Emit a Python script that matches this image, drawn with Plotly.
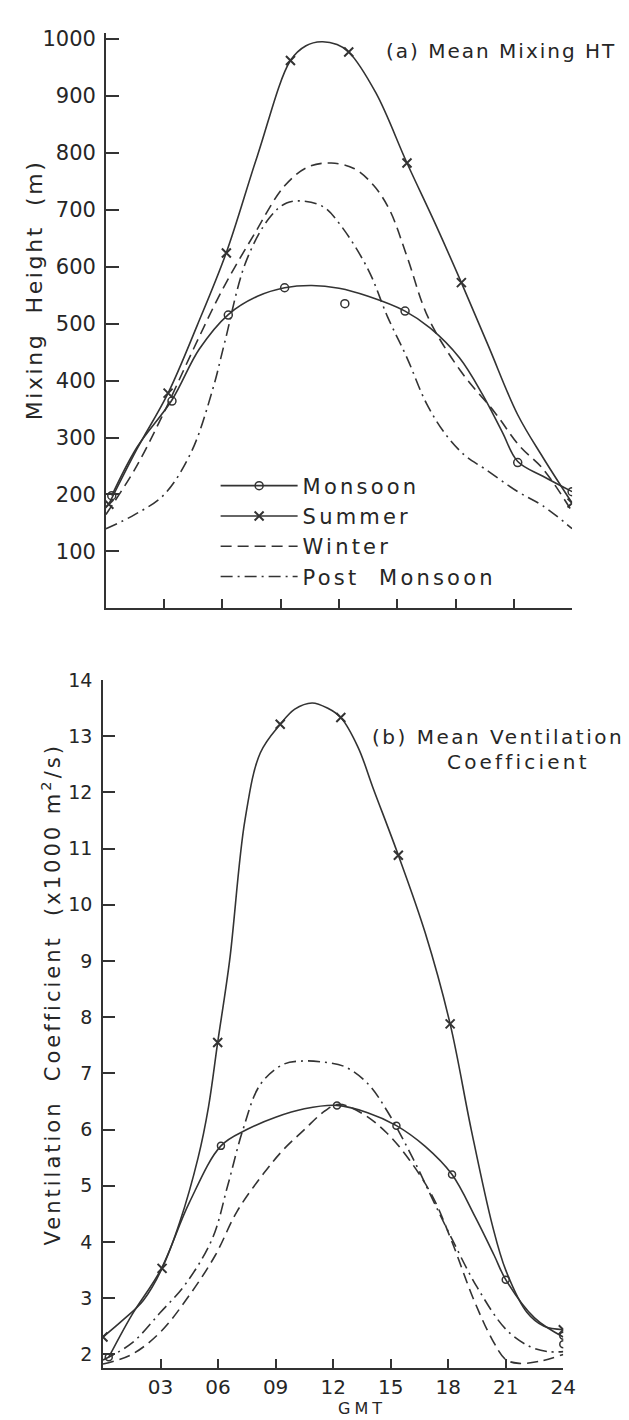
import plotly.graph_objects as go

# ---------------- data: (a) Mean mixing height (m) ----------------
mon_a_curve_h = [0.3, 1.6, 3.4, 4.8, 6.3, 7.8, 9.2, 10.6, 12.0, 13.5, 15.4, 16.7, 18.2, 19.4, 20.4, 21.2, 22.5, 24]
mon_a_curve_v = [198, 283, 366, 455, 516, 548, 563, 567, 562, 548, 522, 492, 440, 375, 310, 258, 232, 205]
mon_a_pts_h = [0.3, 3.4, 6.3, 9.2, 12.3, 15.4, 21.2, 24]
mon_a_pts_v = [198, 364, 515, 563, 535, 522, 256, 205]

sum_a_curve_h = [0.15, 1.6, 3.2, 4.7, 6.2, 7.8, 9.5, 10.3, 11.1, 11.9, 12.5, 13.9, 15.5, 17.0, 18.3, 19.7, 21.2, 22.5, 24]
sum_a_curve_v = [183, 280, 378, 497, 625, 795, 962, 988, 995, 990, 977, 905, 782, 672, 572, 460, 340, 265, 185]
sum_a_pts_h = [0.15, 3.2, 6.2, 9.5, 12.5, 15.5, 18.3, 24]
sum_a_pts_v = [183, 378, 624, 962, 977, 782, 572, 185]

win_a_h = [0, 1.5, 3.0, 4.5, 6.0, 7.6, 9.2, 10.4, 11.6, 12.8, 13.8, 14.6, 15.5, 16.6, 18.3, 20.0, 21.3, 22.5, 24]
win_a_v = [165, 245, 345, 455, 560, 655, 742, 775, 782, 772, 742, 700, 618, 510, 415, 345, 285, 245, 170]

post_a_h = [0, 1.5, 3.0, 4.4, 5.5, 6.1, 7.2, 8.4, 9.3, 10.2, 11.2, 12.1, 13.5, 14.5, 15.5, 16.5, 17.5, 18.5, 19.5, 21.2, 22.5, 24]
post_a_v = [140, 165, 200, 275, 385, 465, 608, 685, 712, 715, 705, 672, 595, 512, 440, 360, 305, 268, 245, 205, 180, 140]

# ---------------- data: (b) Mean ventilation coefficient (x1000 m2/s) ----------------
sum_b_curve_h = [0, 1.0, 2.1, 3.08, 4.0, 4.96, 5.5, 5.98, 6.6, 7.4, 8.2, 9.24, 10.0, 10.9, 11.7, 12.4, 13.3, 14.1, 15.4, 16.8, 18.1, 19.2, 20.3, 21.0, 22.1, 23.0, 24]
sum_b_curve_v = [2.31, 2.6, 2.96, 3.53, 4.35, 5.5, 6.4, 7.55, 9.0, 11.5, 12.7, 13.21, 13.48, 13.59, 13.5, 13.33, 12.8, 12.06, 10.88, 9.5, 7.88, 6.0, 4.3, 3.5, 2.75, 2.5, 2.44]
sum_b_pts_h = [0, 3.08, 5.98, 9.24, 12.4, 15.4, 18.1, 24]
sum_b_pts_v = [2.31, 3.53, 7.55, 13.21, 13.33, 10.88, 7.88, 2.44]

mon_b_curve_h = [0.3, 1.5, 3.0, 4.5, 6.15, 7.5, 9.0, 10.5, 12.2, 13.8, 15.3, 16.8, 18.2, 19.4, 20.4, 21.0, 22.5, 24]
mon_b_curve_v = [1.95, 2.7, 3.5, 4.7, 5.71, 6.0, 6.22, 6.37, 6.43, 6.3, 6.07, 5.7, 5.2, 4.45, 3.76, 3.33, 2.65, 2.31]
mon_b_pts_h = [0.3, 6.15, 12.2, 15.3, 18.2, 21.0, 24, 24]
mon_b_pts_v = [1.95, 5.71, 6.43, 6.07, 5.2, 3.33, 2.33, 2.18]

win_b_h = [0, 1.5, 3.0, 4.5, 5.85, 7.0, 8.4, 9.4, 10.5, 11.6, 12.3, 13.5, 14.8, 16.0, 17.2, 18.2, 19.3, 20.3, 21.0, 21.7, 22.8, 24]
win_b_v = [1.83, 2.0, 2.4, 3.05, 3.76, 4.55, 5.23, 5.64, 6.0, 6.34, 6.45, 6.29, 5.94, 5.45, 4.8, 4.0, 3.0, 2.26, 1.91, 1.84, 1.88, 2.0]

post_b_h = [0, 1.5, 3.0, 4.3, 5.7, 6.5, 7.3, 8.2, 9.4, 10.4, 11.5, 12.6, 13.8, 14.8, 16.2, 17.2, 18.2, 19.5, 21.0, 22.2, 23.2, 24]
post_b_v = [1.9, 2.2, 2.75, 3.25, 4.06, 5.0, 6.0, 6.8, 7.16, 7.22, 7.2, 7.12, 6.82, 6.34, 5.46, 4.75, 4.05, 3.2, 2.45, 2.15, 2.05, 2.05]

# ---------------- ticks / labels ----------------
x_tick_vals = [3, 6, 9, 12, 15, 18, 21, 24]
x_tick_text = ["03", "06", "09", "12", "15", "18", "21", "24"]
ya_tick_vals = [100, 200, 300, 400, 500, 600, 700, 800, 900, 1000]
yb_tick_vals = [2, 3, 4, 5, 6, 7, 8, 9, 10, 11, 12, 13, 14]
series_names = ["Monsoon", "Summer", "Winter", "Post  Monsoon"]

INK = "#333333"
TXT = "#262626"
FONT = "DejaVu Sans"
LW = 1.6
DASH = "11px,6px"
DASHDOT = "12px,5px,2px,5px"


def spaced(s, px):
    return f'<span style="letter-spacing:{px}px">{s}</span>'


fig = go.Figure()


def curve(h, v, xa, ya, dash="solid"):
    fig.add_trace(go.Scatter(x=h, y=v, xaxis=xa, yaxis=ya, mode="lines",
                             line=dict(color=INK, width=LW, dash=dash, shape="spline", smoothing=1.0),
                             showlegend=False, hoverinfo="skip"))


def pts(h, v, xa, ya, symbol, size, mw):
    fig.add_trace(go.Scatter(x=h, y=v, xaxis=xa, yaxis=ya, mode="markers",
                             marker=dict(symbol=symbol, size=size, color=INK,
                                         line=dict(color=INK, width=mw)),
                             showlegend=False, hoverinfo="skip"))


# panel (a)
curve(mon_a_curve_h, mon_a_curve_v, "x", "y")
curve(sum_a_curve_h, sum_a_curve_v, "x", "y")
curve(win_a_h, win_a_v, "x", "y", DASH)
curve(post_a_h, post_a_v, "x", "y", DASHDOT)
pts(mon_a_pts_h, mon_a_pts_v, "x", "y", "circle-open", 8, 1.5)
pts(sum_a_pts_h, sum_a_pts_v, "x", "y", "x-thin", 9, 2)

# panel (b)
curve(mon_b_curve_h, mon_b_curve_v, "x2", "y2")
curve(sum_b_curve_h, sum_b_curve_v, "x2", "y2")
curve(win_b_h, win_b_v, "x2", "y2", DASH)
curve(post_b_h, post_b_v, "x2", "y2", DASHDOT)
pts(mon_b_pts_h, mon_b_pts_v, "x2", "y2", "circle-open", 7, 1.5)
pts(sum_b_pts_h, sum_b_pts_v, "x2", "y2", "x-thin", 9, 2)

# legend entries
leg_styles = [
    dict(mode="lines+markers", line=dict(color=INK, width=LW),
         marker=dict(symbol="circle-open", size=8, color=INK, line=dict(width=1.5, color=INK))),
    dict(mode="lines+markers", line=dict(color=INK, width=LW),
         marker=dict(symbol="x-thin", size=9, color=INK, line=dict(width=2, color=INK))),
    dict(mode="lines", line=dict(color=INK, width=LW, dash=DASH)),
    dict(mode="lines", line=dict(color=INK, width=LW, dash=DASHDOT)),
]
for name, st in zip(series_names, leg_styles):
    fig.add_trace(go.Scatter(x=[None], y=[None], xaxis="x", yaxis="y", name=spaced(name, 3.2),
                             showlegend=True, **st))

axis_common = dict(showline=True, linecolor=INK, linewidth=1.6, ticks="inside", tickcolor=INK,
                   tickwidth=1.5, showgrid=False, zeroline=False, mirror=False)

fig.update_layout(
    width=629, height=1420, margin=dict(l=0, r=0, t=0, b=0),
    paper_bgcolor="white", plot_bgcolor="white",
    font=dict(family=FONT, color=TXT),
    xaxis=dict(domain=[100/629, 576/629], range=[0, 24], tickvals=x_tick_vals, showticklabels=False,
               ticklen=10, anchor="y", **axis_common),
    yaxis=dict(domain=[1-594/1420, 1-14.3/1420], range=[0, 1010], tickvals=ya_tick_vals,
               ticklen=13, anchor="x", ticklabelstandoff=4,
               tickfont=dict(family=FONT, size=21, color=TXT), **axis_common),
    xaxis2=dict(domain=[97/629, 567/629], range=[0, 24], tickvals=x_tick_vals, ticktext=x_tick_text,
                ticklen=10, anchor="y2", ticklabelstandoff=0,
                tickfont=dict(family=FONT, size=20, color=TXT), **axis_common),
    yaxis2=dict(domain=[1-1360/1420, 1-666/1420], range=[1.75, 14.001], tickvals=yb_tick_vals,
                ticklen=12, anchor="x2", ticklabelstandoff=5,
                tickfont=dict(family=FONT, size=19, color=TXT), **axis_common),
    legend=dict(x=212/629, y=1-450/1420, xanchor="left", yanchor="top", bgcolor="rgba(0,0,0,0)",
                font=dict(family=FONT, size=21, color=TXT), itemwidth=77, tracegroupgap=0),
    showlegend=True,
)

ann = [
    dict(text=spaced("(a) Mean Mixing HT", 2), x=384/629, y=1-32/1420, xanchor="left", yanchor="middle", size=20),
    dict(text=spaced("(b) Mean Ventilation", 2.5), x=370/629, y=1-724/1420, xanchor="left", yanchor="middle", size=20),
    dict(text=spaced("Coefficient", 3.2), x=521/629, y=1-749/1420, xanchor="center", yanchor="middle", size=20),
    dict(text=spaced("Mixing  Height  (m)", 2.6), x=27/629, y=1-273/1420, xanchor="center", yanchor="middle",
         textangle=-90, size=22),
    dict(text=spaced("Ventilation  Coefficient  (x1000 m<sup>2</sup>/s)", 3), x=44/629, y=1-983/1420,
         xanchor="center", yanchor="middle", textangle=-90, size=21),
    dict(text=spaced("GMT", 4), x=361/629, y=1-1400/1420, xanchor="center", yanchor="middle", size=16),
]
for a in ann:
    size = a.pop("size")
    a.update(xref="paper", yref="paper", showarrow=False, font=dict(family=FONT, color=TXT, size=size))
fig.update_layout(annotations=ann)

fig.write_html("out.html")
